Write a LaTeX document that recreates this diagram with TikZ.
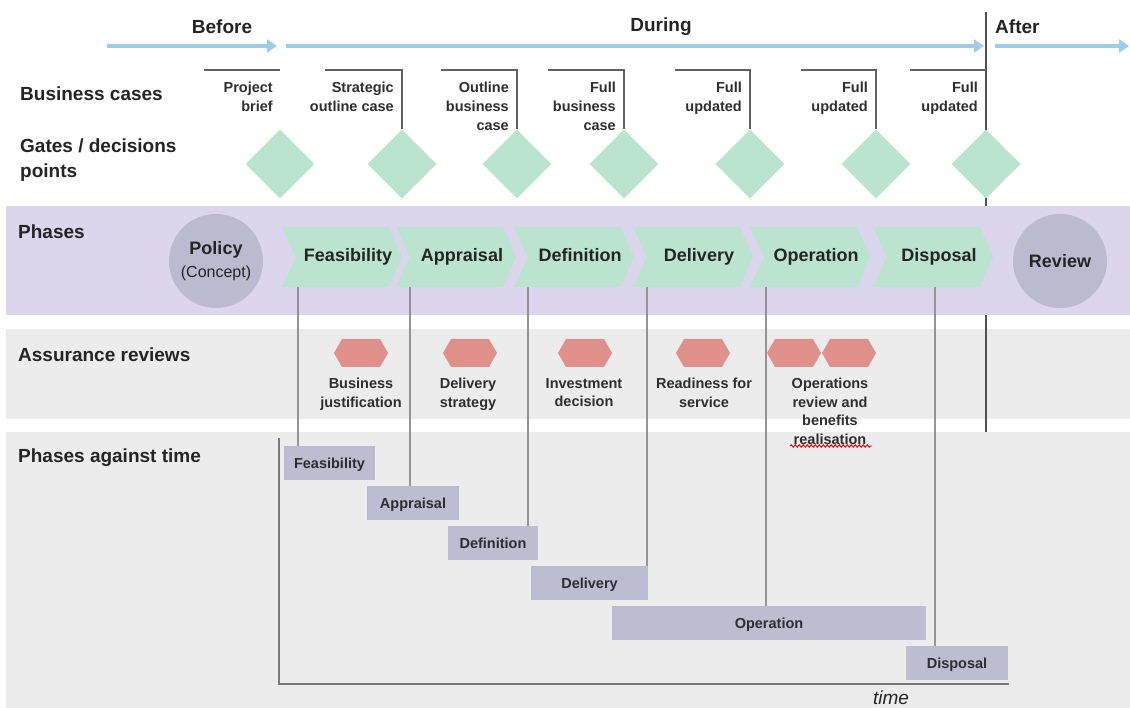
\documentclass[tikz,border=0pt]{standalone}
\usepackage{fontspec}
\setmainfont{Liberation Sans}
\usetikzlibrary{shapes.geometric,arrows.meta,decorations.pathmorphing}
\definecolor{mint}{HTML}{BAE3D0}
\definecolor{lav}{HTML}{DBD6EC}
\definecolor{band}{HTML}{ECECEC}
\definecolor{disc}{HTML}{BCBACF}
\definecolor{barc}{HTML}{BEBCD1}
\definecolor{salmon}{HTML}{E0908B}
\definecolor{sky}{HTML}{9DCDEB}
\definecolor{ink}{HTML}{242424}
\definecolor{label}{HTML}{2E2E2E}
\begin{document}
\begin{tikzpicture}[x=1pt,y=-1pt,
  head/.style={font=\fontsize{19}{23}\selectfont\bfseries, text=ink, inner sep=0, anchor=west},
  toplabel/.style={font=\fontsize{19}{23}\selectfont\bfseries, text=ink, inner sep=0},
  flow/.style={draw=sky, line width=4pt, -{Triangle[length=10pt,width=13pt]}},
  bcase/.style={font=\fontsize{14.5}{19}\selectfont\bfseries, text=label, inner sep=0, align=right, anchor=north east},
  bracket/.style={draw=black!62, line width=1.1pt},
  divider/.style={draw=black!68, line width=1.3pt},
  gate/.style={diamond, fill=mint, minimum size=69pt, inner sep=0},
  phase/.style={font=\fontsize{18}{22}\selectfont\bfseries, text=ink, inner sep=0, minimum height=60pt, text height=13pt, text depth=3.5pt},
  discnode/.style={circle, fill=disc, minimum size=94pt, inner sep=0, text=ink, align=center},
  rev/.style={font=\fontsize{14.5}{18.5}\selectfont\bfseries, text=label, inner sep=0, align=center, anchor=north},
  link/.style={draw=black!42, line width=1.1pt},
  ganttbar/.style={fill=barc, minimum height=34pt, inner sep=0, text height=11pt, text depth=0pt, font=\fontsize{14.5}{17}\selectfont\bfseries, text=label},
  axis/.style={draw=black!52, line width=1.6pt}
]
\useasboundingbox (0,0) rectangle (1130,708);

% background bands
\fill[band] (6,329) rectangle (1130,419);
\fill[band] (6,432) rectangle (1130,708);

% before / during / after divider
\coordinate (dvtop) at (986,12);
\coordinate (dvbot) at (986,432);
\draw[divider] (dvtop) -- (dvbot);

% phases band
\fill[lav] (6,206) rectangle (1130,315);

% time flow
\coordinate (f1a) at (107,46);  \coordinate (f1b) at (277,46);
\coordinate (f2a) at (286,46);  \coordinate (f2b) at (984,46);
\coordinate (f3a) at (995,46);  \coordinate (f3b) at (1129,46);
\draw[flow] (f1a) -- (f1b);
\draw[flow] (f2a) -- (f2b);
\draw[flow] (f3a) -- (f3b);
\node[toplabel] (tbefore) at (222,27) {Before};
\node[toplabel] (tduring) at (661,27) {During};
\node[head] (tafter) at (995,27) {After};

% row headings
\node[head] (hbc) at (20,94) {Business cases};
\node[head] (hgate1) at (20,146) {Gates / decisions};
\node[head] (hgate2) at (20,173) {points};
\node[head] (hphase) at (18,232) {Phases};
\node[head] (hassure) at (18,355) {Assurance reviews};
\node[head] (htime) at (18,458) {Phases against time};

% gates
\foreach \n/\x in {1/280,2/402,3/517,4/624,5/750,6/876,7/986}
  \node[gate] (d\n) at (\x,164) {};

% business cases
\foreach \n/\x in {1/204,2/325,3/441,4/548,5/675,6/801,7/910}
  \coordinate (b\n) at (\x,70);
\draw[bracket] (b1) -- (b1 -| d1);
\foreach \n in {2,...,6}
  \draw[bracket] (b\n) -| (d\n.north);
\draw[bracket] (b7) -- (b7 -| dvtop);
\node[bcase] (c1) at (273,82) {Project\\brief};
\node[bcase] (c2) at (394,82) {Strategic\\outline case};
\node[bcase] (c3) at (509,82) {Outline\\business\\case};
\node[bcase] (c4) at (616,82) {Full\\business\\case};
\node[bcase] (c5) at (742,82) {Full\\updated};
\node[bcase] (c6) at (868,82) {Full\\updated};
\node[bcase] (c7) at (978,82) {Full\\updated};

% phases
\node[discnode, font=\fontsize{16}{23}\selectfont] (policy) at (216,261)
  {{\fontsize{18}{23}\selectfont\bfseries Policy}\\(Concept)};
\node[discnode, font=\fontsize{18}{22}\selectfont\bfseries] (review) at (1060,261) {Review};
\foreach \x/\n/\t in {282/1/Feasibility,396/2/Appraisal,514/3/Definition,633/4/Delivery,750/5/Operation,873/6/Disposal}{
  \fill[mint] (\x,227) -- ++(107,0) -- ++(13,30) -- ++(-13,30) -- ++(-107,0) -- ++(14,-30) -- cycle;
  \node[phase] (p\n) at (\x+66,257) {\t};
}

% assurance reviews
\foreach \x in {361,470,585,703,794,849}
  \fill[salmon] (\x-27,353) -- (\x-19,339) -- (\x+19,339) -- (\x+27,353) -- (\x+19,367) -- (\x-19,367) -- cycle;
\node[rev] (r1) at (361,378) {Business\\justification};
\node[rev] (r2) at (468,378) {Delivery\\strategy};
\node[rev] (r3) at (584,378) {Investment\\decision};
\node[rev] (r4) at (704,378) {Readiness for\\service};
\node[rev] (r5) at (830,378) {Operations\\review and\\benefits\\realisation};
\draw[red!90!black, line width=0.9pt, decorate, decoration={snake, amplitude=1.3pt, segment length=4pt}]
  (790,446) -- (872,446);

% phases against time
\node[ganttbar, minimum width=91pt]  (g1) at (329.5,463) {Feasibility};
\node[ganttbar, minimum width=92pt]  (g2) at (413,503) {Appraisal};
\node[ganttbar, minimum width=90pt]  (g3) at (493,543) {Definition};
\node[ganttbar, minimum width=117pt] (g4) at (589.5,583) {Delivery};
\node[ganttbar, minimum width=314pt] (g5) at (769,623) {Operation};
\node[ganttbar, minimum width=102pt] (g6) at (957,663) {Disposal};

\foreach \n/\x in {1/298,2/410,3/528,4/647,5/766,6/935}{
  \coordinate (k\n) at (\x,0);
  \draw[link] (p\n.south -| k\n) -- (g\n.north -| k\n);
}

\coordinate (axtop) at (279,438);
\coordinate (axend) at (1009,684);
\draw[axis] (axtop) |- (axend);
\node[font=\fontsize{19}{23}\selectfont\itshape, text=ink, inner sep=0] (ttime) at (891,698) {time};
\end{tikzpicture}
\end{document}
